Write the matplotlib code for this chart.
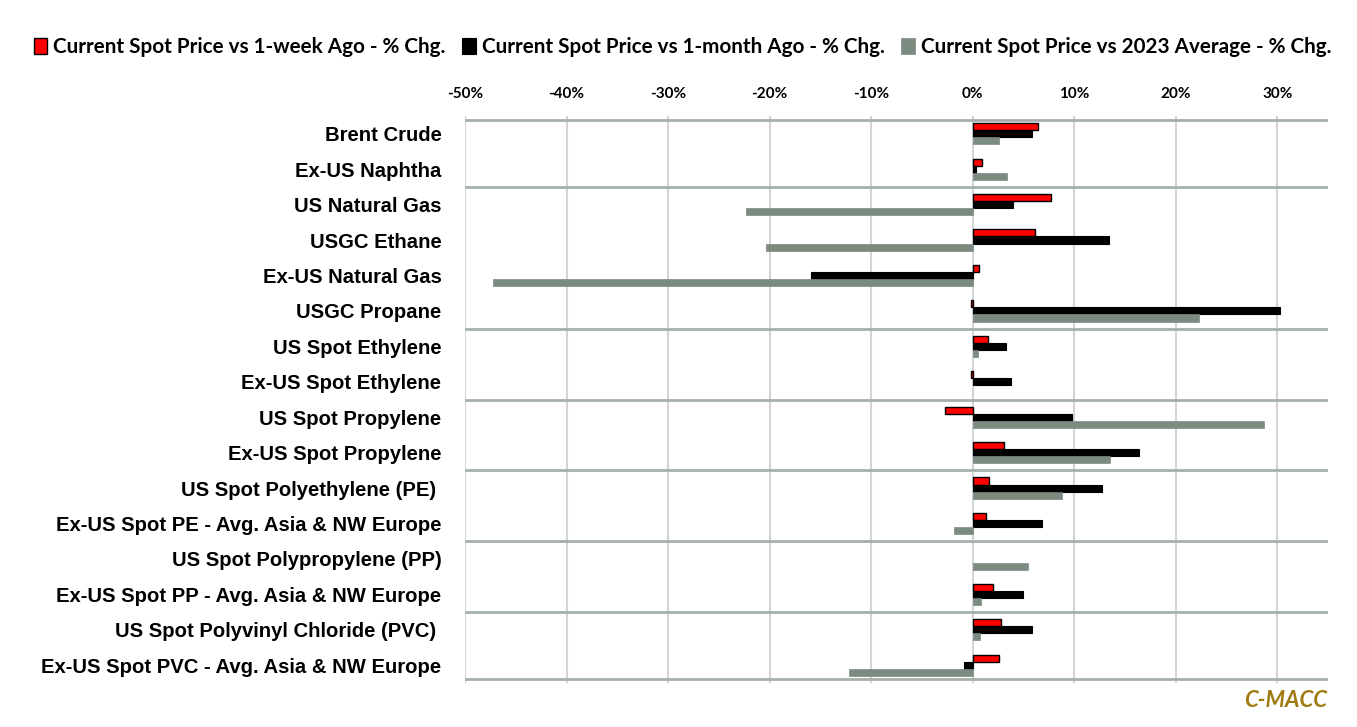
import numpy as np
import matplotlib
matplotlib.use('Agg')
import matplotlib.pyplot as plt

# categories top to bottom
categories = ['Brent Crude', 'Ex-US Naphtha', 'US Natural Gas', 'USGC Ethane',
              'Ex-US Natural Gas', 'USGC Propane', 'US Spot Ethylene',
              'Ex-US Spot Ethylene', 'US Spot Propylene', 'Ex-US Spot Propylene',
              'US Spot Polyethylene (PE) ', 'Ex-US Spot PE - Avg. Asia & NW Europe',
              'US Spot Polypropylene (PP)', 'Ex-US Spot PP - Avg. Asia & NW Europe',
              'US Spot Polyvinyl Chloride (PVC) ', 'Ex-US Spot PVC - Avg. Asia & NW Europe']

# nan = no bar shown
week_chg = [6.4, 0.9, 7.7, 6.1, 0.6, -0.2, 1.5, -0.2, -2.7, 3.1, 1.6, 1.3, np.nan, 2.0, 2.8, 2.6]
month_chg = [5.8, 0.35, 4.0, 13.4, -15.9, 30.3, 3.3, 3.8, 9.8, 16.4, 12.7, 6.8, np.nan, 5.0, 5.8, -0.85]
avg2023_chg = [2.6, 3.4, -22.3, -20.4, -47.2, 22.3, 0.5, np.nan, 28.7, 13.5, 8.8, -1.8, 5.5, 0.8, 0.7, -12.2]

series_names = ['Current Spot Price vs 1-week Ago - % Chg.',
                'Current Spot Price vs 1-month Ago - % Chg.',
                'Current Spot Price vs 2023 Average - % Chg.']

# group separators (between row indices)
separators = [-0.4, 1.5, 5.5, 7.5, 9.5, 11.5, 13.5, 15.4]
xticks = [-50, -40, -30, -20, -10, 0, 10, 20, 30]

red = '#ff0000'
gray = '#7b8b80'

fig = plt.figure(figsize=(13.57, 7.27), dpi=100)
ax = fig.add_axes([0.3427, 1 - 683 / 727, 0.9786 - 0.3427, (683 - 116) / 727])

y = np.arange(len(categories))
h = 0.2
ax.barh(y - h, week_chg, height=h, color=red, edgecolor='black', linewidth=1.0,
        label=series_names[0], zorder=3)
ax.barh(y, month_chg, height=h, color='black', edgecolor='black', linewidth=0.8,
        label=series_names[1], zorder=3)
ax.barh(y + h, avg2023_chg, height=h, color=gray, edgecolor=gray, linewidth=0.5,
        label=series_names[2], zorder=3)

for s in separators:
    ax.axhline(s, color='#a6b0ab', linewidth=2, zorder=2)

ax.set_xlim(-50, 35)
ax.set_ylim(15.5, -0.5)
ax.set_xticks(xticks)
ax.set_xticklabels([f'{t}%' for t in xticks], fontfamily='Lato', fontweight='bold', fontsize=11)
ax.xaxis.tick_top()
ax.tick_params(axis='x', length=0, pad=11)
ax.set_yticks(y)
ax.set_yticklabels(categories, fontfamily='Liberation Sans', fontweight='bold', fontsize=14.6)
ax.tick_params(axis='y', length=0, pad=17)
ax.grid(axis='x', color='#d4d4d4', linewidth=1.5, zorder=0)
for sp in ax.spines.values():
    sp.set_visible(False)

leg = fig.legend(loc='upper left', bbox_to_anchor=(0.011, 0.975), ncol=3, frameon=False,
                 prop={'family': 'Lato', 'weight': 'bold', 'size': 14.9},
                 handlelength=0.65, handleheight=0.8, handletextpad=0.3, columnspacing=0.8)

fig.text(0.978, 0.037, 'C-MACC', ha='right', va='center', fontfamily='Lato',
         fontweight='bold', fontstyle='italic', fontsize=16, color='#a07a10')

fig.savefig('out.png', dpi=100)
